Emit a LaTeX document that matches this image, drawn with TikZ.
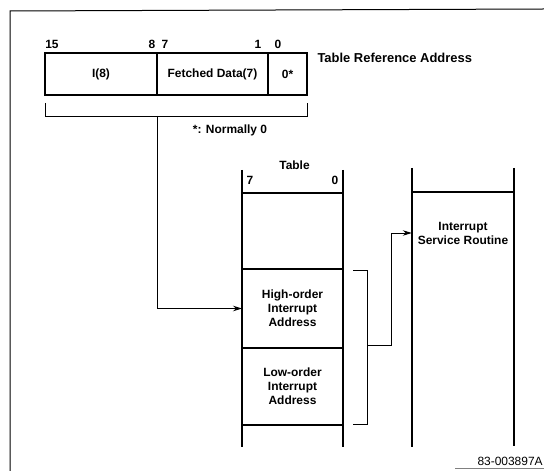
\documentclass[tikz,border=0pt]{standalone}
\usepackage{fontspec}
\setmainfont{Liberation Sans}
\usetikzlibrary{positioning,calc,arrows.meta}
\tikzstyle{vec}=[
  >={Stealth[length=9bp,width=5.5bp]},x=1bp,y=-1bp,font=\fontsize{12}{14}\selectfont\bfseries
]
\tikzstyle{regfield}=[
  draw,line width=1.8bp,outer sep=0pt,inner sep=0pt,minimum height=42bp
]
\tikzstyle{cell}=[
  draw,line width=1.8bp,outer sep=0pt,inner sep=0pt,minimum width=101bp,align=center
]
\tikzstyle{col}=[
  line width=1.8bp
]
\tikzstyle{link}=[
  line width=0.9bp
]
\tikzstyle{frame}=[
  line width=1bp
]

\begin{document}
\begin{tikzpicture}[vec]
    \useasboundingbox (0,0) rectangle (544,471);
    \draw [frame] (10,471) -- (10,11) -- (544,9);
    \draw [frame,gray] (455,468) -- (544,468);
    % register
      \node (hi) at (101,74) [regfield,minimum width=112bp] {I(8)};
      \node (fd) [regfield,minimum width=111bp,right=0pt of hi] {Fetched Data(7)};
      \node (lsb) [regfield,minimum width=39bp,right=0pt of fd] {0*};
      \node (b15) at ($(hi.north west) + (7,-9)$) {15};
      \node (b8) at ($(fd.north west) + (-5,-9)$) {8};
      \node (b7) at ($(fd.north west) + (8,-9)$) {7};
      \node (b1) at ($(lsb.north west) + (-10,-9)$) {1};
      \node (b0) at ($(lsb.north west) + (10,-9)$) {0};
      \node (tra) at ($(lsb.north east) + (7,5)$) [anchor=west,font=\fontsize{13}{14}\selectfont\bfseries] {Table Reference Address};
      \coordinate (brl) at ($(hi.south west) + (0,8)$);
      \coordinate (brr) at ($(lsb.south east) + (0,8)$);
      \draw [link] (brl) -- ++(0,13) -| (brr);
      \coordinate (stem) at ($(fd.south west) + (0,21)$);
      \node (norm) at (230,130) {*: Normally 0};
    % table
      \node (tA) at (292.5,231) [cell,minimum height=76bp] {};
      \node (tHi) [cell,minimum height=79bp,below=0pt of tA] {High-order\\Interrupt\\Address};
      \node (tLo) [cell,minimum height=77bp,below=0pt of tHi] {Low-order\\Interrupt\\Address};
      \draw [col] ($(tA.north west) + (0,-23)$) -- ($(tLo.south west) + (0,22)$);
      \draw [col] ($(tA.north east) + (0,-23)$) -- ($(tLo.south east) + (0,22)$);
      \node (tab) at ($(tA.north) + (2,-28)$) {Table};
      \node (t7) at ($(tA.north west) + (8,-13)$) {7};
      \node (t0) at ($(tA.north east) + (-8,-13)$) {0};
      \draw [link,->] (stem) |- (tHi.west);
    % service routine
      \node (isr) at (463,233) [minimum width=102bp,inner sep=0pt,align=center] {Interrupt\\Service Routine};
      \coordinate (isrtl) at (412,192);
      \coordinate (isrtr) at (514,192);
      \draw [col] (isrtl) -- (isrtr);
      \draw [col] ($(isrtl) + (0,-24)$) -- ($(isrtl) + (0,255)$);
      \draw [col] ($(isrtr) + (0,-24)$) -- ($(isrtr) + (0,254)$);
      \coordinate (bkt) at ($(tHi.north east) + (10,1)$);
      \coordinate (bkb) at ($(tLo.south east) + (10,-1)$);
      \draw [link] (bkt) -- ++(14,0) coordinate (bkc) |- (bkb);
      \draw [link,->] ($(bkc) + (0,75)$) -- ++(24,0) |- (isr.west);
      \node (fig) at (474,461) [anchor=west,font=\fontsize{12}{13}\selectfont] {83-003897A};
    \end{tikzpicture}
\end{document}
